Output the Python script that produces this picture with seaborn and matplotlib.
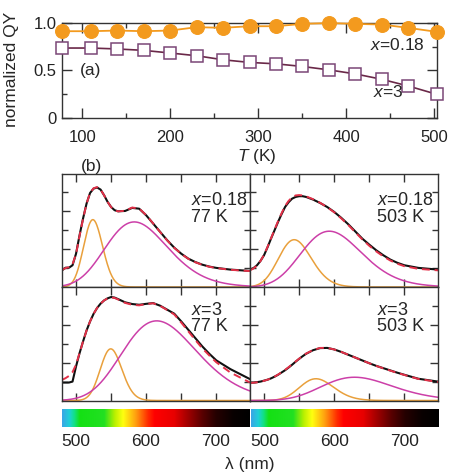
import numpy as np
import matplotlib
matplotlib.use("Agg")
import matplotlib.pyplot as plt
import seaborn as sns
from matplotlib.colors import LinearSegmentedColormap
from matplotlib.ticker import MultipleLocator, FixedLocator, NullFormatter

# ---------------- (a) normalized quantum yield vs temperature ----------------
temperature_K = [77, 110, 140, 170, 200, 230, 260, 290, 320, 350, 380, 410, 440, 470, 503]
qy_x018 = [0.918, 0.918, 0.925, 0.918, 0.925, 0.961, 0.954, 0.971, 0.971, 0.996,
           1.005, 0.996, 0.989, 0.954, 0.911]
qy_x3 = [0.739, 0.739, 0.729, 0.714, 0.686, 0.657, 0.614, 0.586, 0.571, 0.543,
         0.507, 0.464, 0.407, 0.336, 0.246]

# ---------------- (b) emission spectra ----------------
wavelength_nm = [480, 485, 490, 495, 500, 505, 510, 515, 520, 525, 530, 535, 540, 545,
                 550, 555, 560, 570, 580, 590, 600, 610, 620, 630, 640, 650, 660, 670,
                 680, 690, 700, 720, 748]

meas_x018_77K = [0.88, 1.02, 1.02, 1.15, 1.76, 2.73, 3.62, 4.41, 4.97, 5.20, 5.26, 5.15,
                 4.85, 4.50, 4.23, 4.06, 4.00, 4.02, 4.18, 4.14, 3.79, 3.35, 2.91, 2.47,
                 2.08, 1.76, 1.50, 1.32, 1.18, 1.08, 1.01, 0.92, 0.85]
fit_x018_77K = [0.90, 1.00, 1.05, 1.20, 1.74, 2.70, 3.60, 4.40, 4.98, 5.22, 5.28, 5.15,
                4.85, 4.50, 4.22, 4.05, 4.00, 4.03, 4.20, 4.15, 3.80, 3.36, 2.90, 2.46,
                2.07, 1.75, 1.49, 1.31, 1.17, 1.07, 1.00, 0.91, 0.84]

meas_x018_503K = [0.92, 1.00, 1.15, 1.38, 1.68, 2.10, 2.56, 3.00, 3.44, 3.85, 4.23, 4.48,
                  4.67, 4.76, 4.80, 4.80, 4.76, 4.62, 4.44, 4.23, 3.97, 3.66, 3.32, 2.94,
                  2.56, 2.24, 1.94, 1.68, 1.45, 1.28, 1.15, 1.01, 0.92]
fit_x018_503K = [0.88, 0.98, 1.14, 1.38, 1.70, 2.12, 2.58, 3.03, 3.48, 3.90, 4.28, 4.55,
                 4.74, 4.84, 4.86, 4.84, 4.79, 4.64, 4.45, 4.22, 3.95, 3.63, 3.28, 2.90,
                 2.52, 2.18, 1.88, 1.62, 1.40, 1.23, 1.10, 0.96, 0.88]

meas_x3_77K = [0.95, 0.95, 0.95, 1.00, 1.80, 2.50, 3.12, 3.70, 4.18, 4.58, 4.89, 5.12,
               5.29, 5.40, 5.47, 5.44, 5.36, 5.19, 5.10, 5.06, 5.11, 5.15, 5.01, 4.80,
               4.59, 4.18, 3.74, 3.30, 2.86, 2.47, 2.12, 1.66, 1.13]
fit_x3_77K = [1.09, 1.18, 1.30, 1.50, 1.90, 2.50, 3.12, 3.70, 4.18, 4.58, 4.89, 5.12,
              5.29, 5.40, 5.45, 5.42, 5.34, 5.16, 5.06, 5.03, 5.10, 5.14, 5.00, 4.78,
              4.55, 4.12, 3.66, 3.20, 2.76, 2.38, 2.02, 1.48, 0.95]

meas_x3_503K = [0.95, 0.95, 0.97, 1.00, 1.05, 1.10, 1.17, 1.26, 1.36, 1.48, 1.60, 1.74,
                1.89, 2.05, 2.20, 2.34, 2.47, 2.66, 2.77, 2.78, 2.70, 2.57, 2.42, 2.27,
                2.12, 1.97, 1.83, 1.71, 1.59, 1.47, 1.36, 1.15, 1.00]
fit_x3_503K = [0.93, 0.94, 0.96, 0.99, 1.04, 1.10, 1.17, 1.26, 1.37, 1.49, 1.62, 1.76,
               1.91, 2.06, 2.21, 2.35, 2.48, 2.67, 2.78, 2.78, 2.70, 2.57, 2.42, 2.27,
               2.12, 1.97, 1.83, 1.70, 1.58, 1.46, 1.35, 1.14, 0.98]

# Gaussian emission bands (Gaussian in photon energy): peak wavelength, width, height
panel_titles = [("0.18", "77 K"), ("0.18", "503 K"), ("3", "77 K"), ("3", "503 K")]
band1_peak_nm = [524, 543, 549.5, 574]
band1_sigma_eV = [0.061, 0.098, 0.063, 0.091]
band1_height = [3.56, 2.50, 2.73, 1.15]
band2_peak_nm = [583, 593, 615, 629]
band2_sigma_eV = [0.161, 0.152, 0.174, 0.158]
band2_height = [3.44, 2.95, 4.21, 1.23]

measured = [meas_x018_77K, meas_x018_503K, meas_x3_77K, meas_x3_503K]
fitted = [fit_x018_77K, fit_x018_503K, fit_x3_77K, fit_x3_503K]

# wavelength -> perceived colour strip
strip_nm = [480, 490, 497, 505, 540, 555, 567, 585, 603, 612, 640, 660, 680, 700, 725, 748]
strip_colors = ["#3aa6e6", "#1fd0d8", "#12e08a", "#14e014", "#22e022", "#b8f000",
                "#ffff10", "#ffa010", "#ff2a00", "#ff0000", "#e80000", "#a00000",
                "#5a0000", "#250000", "#080000", "#000000"]

ORANGE = "#f39a1e"
BAND1 = "#e9a03c"
BAND2 = "#cc3fa8"
FIT_RED = "#e33048"
SQ_EDGE = "#7a4676"
SQ_LINE = "#6a2848"
FRAME = "#333333"

sns.set_theme(style="ticks")
plt.rcParams["font.family"] = ["Liberation Sans", "DejaVu Sans"]
plt.rcParams["mathtext.fontset"] = "custom"
plt.rcParams["mathtext.it"] = "Liberation Sans:italic"
plt.rcParams["mathtext.rm"] = "Liberation Sans"
plt.rcParams["axes.edgecolor"] = FRAME
plt.rcParams["axes.linewidth"] = 1.0
plt.rcParams["xtick.color"] = FRAME
plt.rcParams["ytick.color"] = FRAME
plt.rcParams["xtick.labelcolor"] = "#222222"
plt.rcParams["ytick.labelcolor"] = "#222222"

W, H = 449, 472
fig = plt.figure(figsize=(W / 100, H / 100), dpi=100)


def px_axes(x0, y0, x1, y1):
    return fig.add_axes([x0 / W, 1 - y1 / H, (x1 - x0) / W, (y1 - y0) / H])


# ---------------- panel (a) ----------------
axa = px_axes(62, 23.5, 437, 117.5)
sns.lineplot(x=temperature_K, y=qy_x3, ax=axa, color=SQ_LINE, lw=1.2, marker="s",
             markersize=8.5, markerfacecolor="white", markeredgecolor=SQ_EDGE,
             markeredgewidth=1.1, clip_on=False, zorder=3)
sns.lineplot(x=temperature_K, y=qy_x018, ax=axa, color=ORANGE, lw=1.3, marker="o",
             markersize=10, markeredgecolor=ORANGE, clip_on=False, zorder=4)
axa.set_xlim(77, 503)
axa.set_ylim(0, 1.0)
axa.xaxis.set_major_locator(FixedLocator([100, 200, 300, 400, 500]))
axa.xaxis.set_minor_locator(MultipleLocator(50))
axa.yaxis.set_major_locator(FixedLocator([0, 0.5, 1.0]))
axa.yaxis.set_minor_locator(MultipleLocator(0.25))
axa.set_yticklabels(["0", "0.5", "1.0"])
axa.tick_params(which="both", direction="in", top=True, right=True, labelsize=12)
axa.tick_params(which="major", length=7, width=1.0)
axa.tick_params(which="minor", length=3.5, width=1.0)
axa.tick_params(axis="x", pad=9)
axa.tick_params(axis="y", pad=4)
axa.set_xlabel("")
axa.set_ylabel("")
axa.text(0.077, 0.505, "(a)", transform=axa.transAxes, ha="center", va="center", fontsize=12.5)
axa.text(0.968, 0.771, "$x$=0.18", transform=axa.transAxes, ha="right", va="center", fontsize=12.5)
axa.text(0.829, 0.271, "$x$=3", transform=axa.transAxes, ha="left", va="center", fontsize=12.5)

fig.text(12 / W, 1 - 69 / H, "normalized QY", rotation=90, ha="center", va="center", fontsize=12.5)
fig.text(257 / W, 1 - 156 / H, "$T$ (K)", ha="center", va="center", fontsize=12.5)
fig.text(91 / W, 1 - 167 / H, "(b)", ha="center", va="center", fontsize=12.5)

# ---------------- panel (b) ----------------
lam_fine = np.linspace(480, 748, 400)


def band(lam, peak_nm, sigma_eV, height):
    e = 1239.84 / np.asarray(lam)
    e0 = 1239.84 / peak_nm
    return height * np.exp(-0.5 * ((e - e0) / sigma_eV) ** 2)


boxes = [(62, 173.5, 250, 287), (250, 173.5, 438, 287),
         (62, 287, 250, 400.5), (250, 287, 438, 400.5)]
label_pos = [(0.686, 0.758, 0.608), (0.675, 0.758, 0.608),
             (0.686, 0.79, 0.65), (0.675, 0.79, 0.65)]

for i, box in enumerate(boxes):
    ax = px_axes(*box)
    sns.lineplot(x=lam_fine, y=band(lam_fine, band1_peak_nm[i], band1_sigma_eV[i], band1_height[i]),
                 ax=ax, color=BAND1, lw=1.1)
    sns.lineplot(x=lam_fine, y=band(lam_fine, band2_peak_nm[i], band2_sigma_eV[i], band2_height[i]),
                 ax=ax, color=BAND2, lw=1.1)
    sns.lineplot(x=wavelength_nm, y=measured[i], ax=ax, color="#111111", lw=1.5)
    sns.lineplot(x=wavelength_nm, y=fitted[i], ax=ax, color=FIT_RED, lw=1.4,
                 linestyle=(0, (4, 2.5)))
    ax.set_xlim(480, 748)
    ax.set_ylim(0, 6)
    ax.xaxis.set_major_locator(FixedLocator([500, 550, 600, 650, 700]))
    ax.yaxis.set_major_locator(FixedLocator([2, 4]))
    ax.yaxis.set_minor_locator(FixedLocator([1, 3, 5]))
    ax.xaxis.set_major_formatter(NullFormatter())
    ax.yaxis.set_major_formatter(NullFormatter())
    ax.tick_params(which="both", direction="in", top=True, right=True, width=1.0)
    ax.tick_params(which="major", length=6)
    ax.tick_params(which="minor", length=4)
    ax.set_xlabel("")
    ax.set_ylabel("")
    xs, y1, y2 = label_pos[i]
    ax.text(xs, y1, "$x$=" + panel_titles[i][0], transform=ax.transAxes, ha="left",
            va="center", fontsize=13)
    ax.text(xs, y2, panel_titles[i][1], transform=ax.transAxes, ha="left",
            va="center", fontsize=13)

# colour strips under the spectra
stops = [(v - strip_nm[0]) / (strip_nm[-1] - strip_nm[0]) for v in strip_nm]
strip_cmap = LinearSegmentedColormap.from_list("wavelength", list(zip(stops, strip_colors)))
for x0, x1 in [(62, 249.5), (250.5, 438)]:
    cax = px_axes(x0, 409, x1, 427)
    grad = np.linspace(480, 748, 512)[None, :]
    cax.imshow(grad, extent=[480, 748, 0, 1], aspect="auto", cmap=strip_cmap,
               vmin=480, vmax=748)
    cax.set_xlim(480, 748)
    cax.set_yticks([])
    cax.set_xticks([500, 600, 700])
    cax.set_xticklabels(["500", "600", "700"])
    cax.tick_params(axis="x", length=0, pad=5, labelsize=12.5)
    for s in cax.spines.values():
        s.set_visible(False)

fig.text(250 / W, 1 - 464 / H, "λ (nm)", ha="center", va="center", fontsize=12.5)

fig.savefig("out.png", dpi=100)
